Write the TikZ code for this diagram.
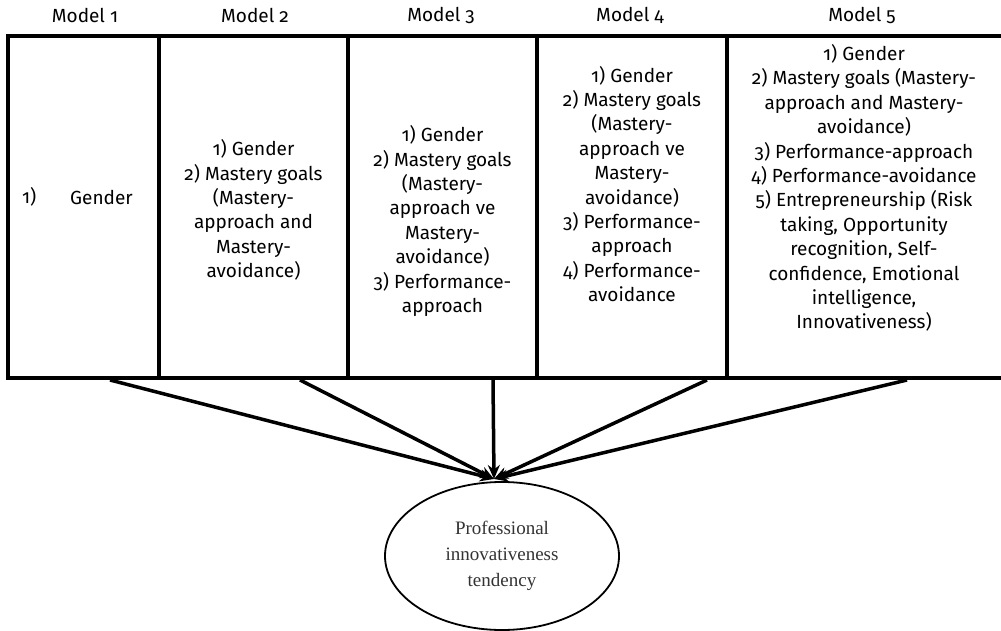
\documentclass[tikz,border=0pt]{standalone}
\usepackage{fontspec}
\setmainfont{Fira Sans}[Numbers=OldStyle]
\newfontfamily\serifface{Liberation Serif}
\usetikzlibrary{arrows.meta,shapes.geometric}
\begin{document}
\begin{tikzpicture}[x=1pt,y=-1pt,
  border/.style={line width=4pt,line cap=rect},
  hdr/.style={font=\fontsize{19}{22}\selectfont,inner sep=0pt},
  cell/.style={font=\fontsize{19}{24.4}\selectfont,align=center,inner sep=0pt},
  link/.style={line width=3.5pt,-{Stealth[length=14pt,width=12pt]}},
  outcome/.style={ellipse,draw,line width=1.8pt,minimum width=234pt,minimum height=148pt,
    align=center,inner sep=0pt,font=\serifface\fontsize{19}{26}\selectfont,text=black!80}]
\useasboundingbox (0,0) rectangle (1001,631);
% headers
\node[hdr] (h1) at (85,15) {Model 1};
\node[hdr] (h2) at (255,15) {Model 2};
\node[hdr] (h3) at (441,15) {Model 3};
\node[hdr] (h4) at (630,15) {Model 4};
\node[hdr] (h5) at (862,15) {Model 5};
% table frame
\draw[border] (1001,36) -- (8,36) -- (8,378) -- (1001,378);
\draw[border] (159,36) -- (159,378);
\draw[border] (348,36) -- (348,378);
\draw[border] (537,36) -- (537,378);
\draw[border] (727,36) -- (727,378);
% cell texts
\node[cell,anchor=west] (c1a) at (22,197) {1)};
\node[cell,anchor=west] (c1b) at (70,197) {Gender};
\node[cell] (c2) at (253.5,210) {1) Gender\\2) Mastery goals\\(Mastery-\\approach and\\Mastery-\\avoidance)};
\node[cell] (c3) at (442.5,221) {1) Gender\\2) Mastery goals\\(Mastery-\\approach ve\\Mastery-\\avoidance)\\3) Performance-\\approach};
\node[cell] (c4) at (632,184) {1) Gender\\2) Mastery goals\\(Mastery-\\approach ve\\Mastery-\\avoidance)\\3) Performance-\\approach\\4) Performance-\\avoidance};
\node[cell] (c5) at (864,188) {1) Gender\\2) Mastery goals (Mastery-\\approach and Mastery-\\avoidance)\\3) Performance-approach\\4) Performance-avoidance\\5) Entrepreneurship (Risk\\taking, Opportunity\\recognition, Self-\\confidence, Emotional\\intelligence,\\Innovativeness)};
% outcome
\node[outcome] (out) at (502,556) {Professional\\innovativeness\\tendency};
% connector anchors
\coordinate (s1) at (110,380);
\coordinate (s2) at (300,380);
\coordinate (s3) at (493,380);
\coordinate (s4) at (707,380);
\coordinate (s5) at (907,380);
\coordinate (tip) at (494,479);
\draw[link] (s1) -- (tip);
\draw[link] (s2) -- (tip);
\draw[link] (s3) -- (tip);
\draw[link] (s4) -- (tip);
\draw[link] (s5) -- (tip);
\end{tikzpicture}
\end{document}
